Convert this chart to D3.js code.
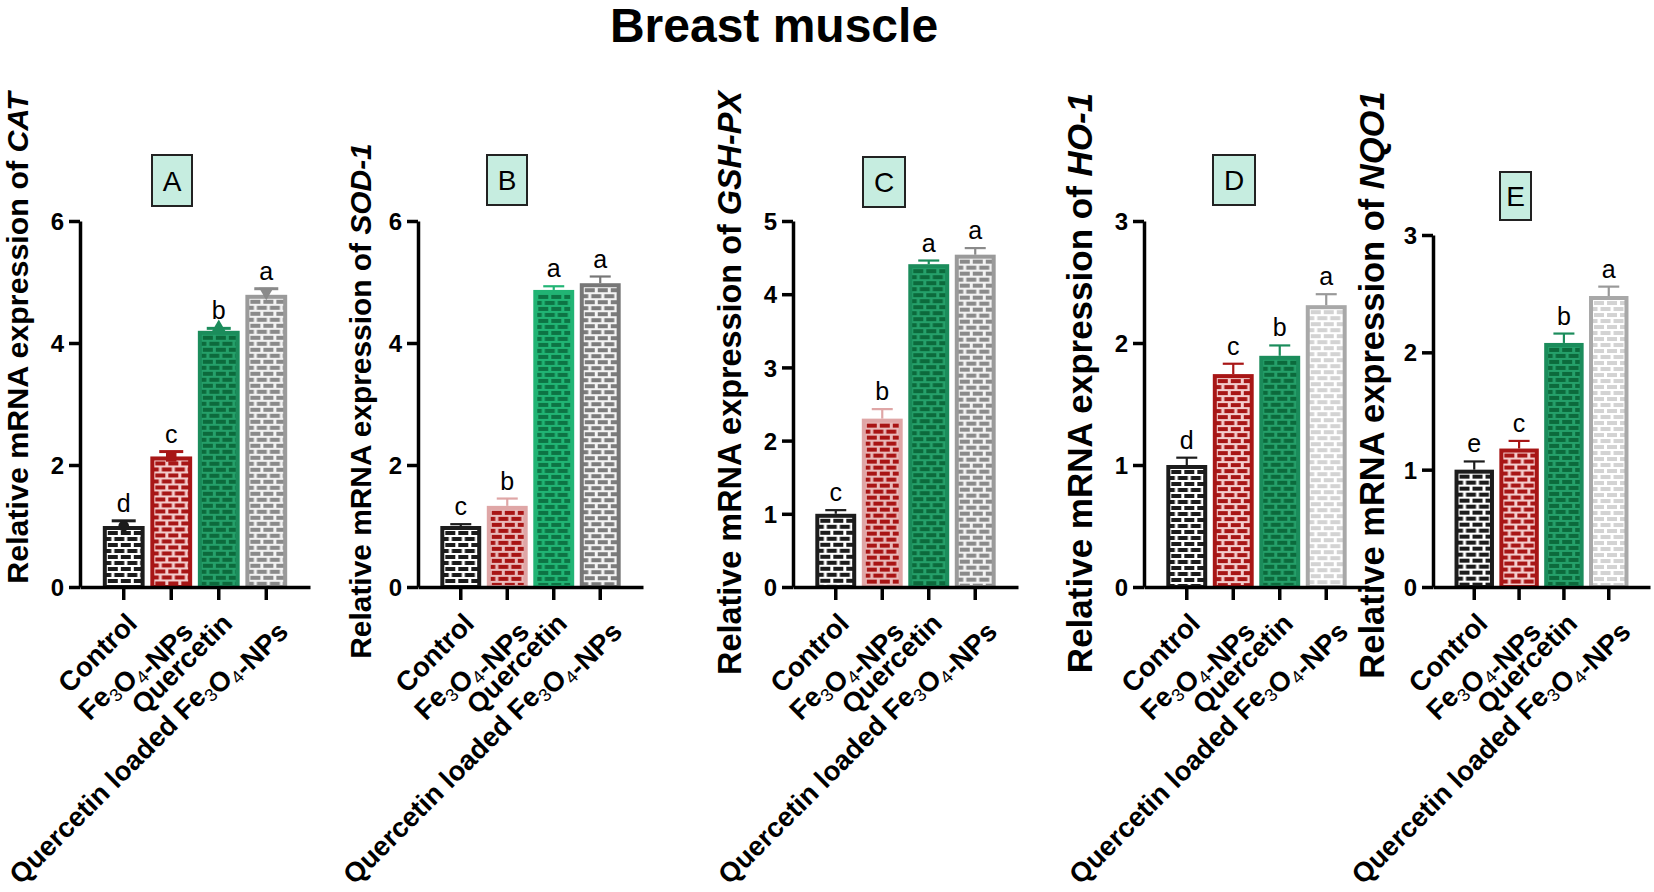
<!DOCTYPE html>
<html>
<head>
<meta charset="utf-8">
<script src="https://cdn.jsdelivr.net/npm/d3@7/dist/d3.min.js"></script>
<style>
  html, body { margin: 0; padding: 0; background: #fff; }
  svg { display: block; font-family: "Liberation Sans", Arial, sans-serif; }
</style>
</head>
<body>
<svg id="chart" width="1654" height="892"></svg>
<script>
// groups on the x axis (same for every panel)
var categories = ["Control", "Fe3O4-NPs", "Quercetin", "Quercetin loaded Fe3O4-NPs"]

// A - CAT
var catMeans = [1.00, 2.14, 4.20, 4.79]
var catErr = [0.085, 0.08, 0.04, 0.10]
var catLetters = ["d", "c", "b", "a"]
// B - SOD-1
var sodMeans = [1.00, 1.33, 4.87, 4.98]
var sodErr = [0.03, 0.12, 0.06, 0.11]
var sodLetters = ["c", "b", "a", "a"]
// C - GSH-PX
var gshMeans = [1.00, 2.30, 4.41, 4.54]
var gshErr = [0.05, 0.13, 0.05, 0.09]
var gshLetters = ["c", "b", "a", "a"]
// D - HO-1
var hoMeans = [1.00, 1.745, 1.895, 2.31]
var hoErr = [0.06, 0.085, 0.085, 0.09]
var hoLetters = ["d", "c", "b", "a"]
// E - NQO1
var nqoMeans = [1.00, 1.18, 2.08, 2.48]
var nqoErr = [0.07, 0.065, 0.08, 0.08]
var nqoLetters = ["e", "c", "b", "a"]

var ticksSix = [0, 2, 4, 6]
var ticksFive = [0, 1, 2, 3, 4, 5]
var ticksThree = [0, 1, 2, 3]

// bar colours: border, brick, mortar, error bar
var blackBar = {border: "#1c1c1c", brick: "#1c1c1c", mortar: "#ffffff", err: "#1c1c1c"}
var redBar = {border: "#a81616", brick: "#a81616", mortar: "#f3cccc", err: "#a81616"}
var pinkRedBar = {border: "#dfa6a6", brick: "#a81414", mortar: "#e9b9b9", err: "#dfa6a6"}
var greenBar = {border: "#1b8c5b", brick: "#0c6a3c", mortar: "#25a06a", err: "#1b8c5b"}
var brightGreenBar = {border: "#21b474", brick: "#0d7444", mortar: "#21b474", err: "#21b474"}
var grayBar = {border: "#9a9a9a", brick: "#8a8a8a", mortar: "#f2f2f2", err: "#8a8a8a"}
var darkGrayBar = {border: "#777777", brick: "#7c7c7c", mortar: "#f4f4f4", err: "#777777"}
var lightGrayBar = {border: "#a8a8a8", brick: "#d3d3d3", mortar: "#ffffff", err: "#999999"}

var panels = [
  {tag: "A", gene: "CAT", means: catMeans, errs: catErr, letters: catLetters, ymax: 6, ticks: ticksSix,
   ax0: 80, ax1: 310, yTop: 221, yBot: 587, titleX: 28, titleY: 338, titleFs: 30.4,
   box: [152, 155, 40, 51], colors: [blackBar, redBar, greenBar, grayBar], markers: true},
  {tag: "B", gene: "SOD-1", means: sodMeans, errs: sodErr, letters: sodLetters, ymax: 6, ticks: ticksSix,
   ax0: 418, ax1: 643, yTop: 221, yBot: 587, titleX: 371, titleY: 401, titleFs: 29.9,
   box: [487, 155, 40, 50], colors: [blackBar, pinkRedBar, brightGreenBar, darkGrayBar], markers: false},
  {tag: "C", gene: "GSH-PX", means: gshMeans, errs: gshErr, letters: gshLetters, ymax: 5, ticks: ticksFive,
   ax0: 793, ax1: 1018, yTop: 221, yBot: 587, titleX: 741, titleY: 383, titleFs: 32.4,
   box: [863, 157, 42, 50], colors: [blackBar, pinkRedBar, greenBar, grayBar], markers: false},
  {tag: "D", gene: "HO-1", means: hoMeans, errs: hoErr, letters: hoLetters, ymax: 3, ticks: ticksThree,
   ax0: 1144, ax1: 1369, yTop: 221, yBot: 587, titleX: 1092, titleY: 383, titleFs: 35,
   box: [1213, 155, 42, 50], colors: [blackBar, redBar, greenBar, lightGrayBar], markers: false},
  {tag: "E", gene: "NQO1", means: nqoMeans, errs: nqoErr, letters: nqoLetters, ymax: 3, ticks: ticksThree,
   ax0: 1433, ax1: 1650, yTop: 235, yBot: 587, titleX: 1384, titleY: 385, titleFs: 34.5,
   box: [1500, 172, 31, 48], colors: [blackBar, redBar, greenBar, lightGrayBar], markers: false}
]

var svg = d3.select("#chart")
var defs = svg.append("defs")

svg.append("text")
  .attr("x", 774).attr("y", 42)
  .attr("text-anchor", "middle")
  .style("font-size", "48px").style("font-weight", "bold")
  .text("Breast muscle")

// brick pattern: mortar background with staggered bricks
function brickPattern(id, col, x0, y0) {
  var p = defs.append("pattern")
    .attr("id", id)
    .attr("patternUnits", "userSpaceOnUse")
    .attr("width", 13).attr("height", 12)
    .attr("x", x0).attr("y", y0)
  p.append("rect").attr("width", 13).attr("height", 12).attr("fill", col.mortar)
  var bricks = [[1, 1, 10], [-5.5, 7, 10], [7.5, 7, 10]]
  bricks.forEach(function (b) {
    p.append("rect").attr("x", b[0]).attr("y", b[1]).attr("width", b[2]).attr("height", 4).attr("fill", col.brick)
  })
}

// label with digits as subscripts (Fe3O4)
function subText(sel, str) {
  var parts = str.split(/(\d)/)
  parts.forEach(function (s) {
    if (s === "") return
    if (/^\d$/.test(s)) {
      sel.append("tspan").attr("dy", 6).style("font-size", "0.66em").style("font-weight", "normal").text(s)
      sel.append("tspan").attr("dy", -6).text("")
    } else {
      sel.append("tspan").text(s)
    }
  })
}

var markerTypes = [d3.symbolCircle, d3.symbolSquare, d3.symbolTriangle, d3.symbolTriangle]

panels.forEach(function (pn, pi) {
  var g = svg.append("g")

  var x = d3.scaleBand().domain(categories).range([pn.ax0, pn.ax1]).paddingInner(0.12).paddingOuter(0.48)
  var y = d3.scaleLinear().domain([0, pn.ymax]).range([pn.yBot, pn.yTop])
  var bw = x.bandwidth()

  var rows = categories.map(function (c, i) {
    return {cat: c, v: pn.means[i], e: pn.errs[i], letter: pn.letters[i], col: pn.colors[i], i: i}
  })

  // bars
  rows.forEach(function (d) {
    var id = "pat" + pi + "_" + d.i
    brickPattern(id, d.col, x(d.cat) + 4, y(d.v) + 4)
  })
  g.selectAll("rect.bar").data(rows).enter().append("rect")
    .attr("class", "bar")
    .attr("x", function (d) { return x(d.cat) + 2 })
    .attr("y", function (d) { return y(d.v) + 2 })
    .attr("width", bw - 4)
    .attr("height", function (d) { return pn.yBot - y(d.v) - 2 })
    .attr("fill", function (d) { return "url(#pat" + pi + "_" + d.i + ")" })
    .attr("stroke", function (d) { return d.col.border })
    .attr("stroke-width", 4)

  // error bars (upper only)
  var capW = pn.markers ? 24 : 21
  g.selectAll("line.err").data(rows).enter().append("line")
    .attr("x1", function (d) { return x(d.cat) + bw / 2 }).attr("x2", function (d) { return x(d.cat) + bw / 2 })
    .attr("y1", function (d) { return y(d.v) }).attr("y2", function (d) { return y(d.v + d.e) })
    .attr("stroke", function (d) { return d.col.err }).attr("stroke-width", pn.markers ? 3 : 2.2)
  g.selectAll("line.cap").data(rows).enter().append("line")
    .attr("x1", function (d) { return x(d.cat) + bw / 2 - capW / 2 }).attr("x2", function (d) { return x(d.cat) + bw / 2 + capW / 2 })
    .attr("y1", function (d) { return y(d.v + d.e) }).attr("y2", function (d) { return y(d.v + d.e) })
    .attr("stroke", function (d) { return d.col.err }).attr("stroke-width", pn.markers ? 3 : 2.2)

  if (pn.markers) {
    g.selectAll("path.mk").data(rows).enter().append("path")
      .attr("d", function (d) { return d3.symbol().type(markerTypes[d.i]).size(d.i === 1 ? 110 : 90)() })
      .attr("transform", function (d) {
        return "translate(" + (x(d.cat) + bw / 2) + "," + (y(d.v) - (d.i >= 2 ? 3 : 0)) + ")" + (d.i === 3 ? " rotate(180)" : "")
      })
      .attr("fill", function (d) { return d.col.err })
  }

  // significance letters
  g.selectAll("text.sig").data(rows).enter().append("text")
    .attr("x", function (d) { return x(d.cat) + bw / 2 })
    .attr("y", function (d) { return y(d.v + d.e) - 9 })
    .attr("text-anchor", "middle")
    .style("font-size", "25px")
    .text(function (d) { return d.letter })

  // y axis
  var yAxis = g.append("g")
    .attr("transform", "translate(" + pn.ax0 + ",0)")
    .call(d3.axisLeft(y).tickValues(pn.ticks).tickFormat(d3.format("d")).tickSize(11).tickSizeOuter(0).tickPadding(5))
  yAxis.select(".domain").attr("stroke-width", 3.5).attr("stroke", "#000")
  yAxis.selectAll(".tick line").attr("stroke-width", 3.5)
  yAxis.selectAll(".tick text")
    .style("font-size", "24px").style("font-weight", "bold")
    .style("font-family", "'Liberation Sans', Arial, sans-serif")
    .attr("dy", "0.36em")

  // x axis
  var xAxis = g.append("g")
    .attr("transform", "translate(0," + pn.yBot + ")")
    .call(d3.axisBottom(x).tickSize(13).tickSizeOuter(0))
  xAxis.select(".domain").attr("stroke-width", 3.5).attr("stroke", "#000")
  xAxis.selectAll(".tick line").attr("stroke-width", 3.5)
  xAxis.selectAll(".tick text").remove()

  categories.forEach(function (c) {
    var t = g.append("text")
      .attr("text-anchor", "end")
      .attr("transform", "translate(" + (x(c) + bw / 2 + 15) + "," + (pn.yBot + 38) + ") rotate(-45)")
      .style("font-size", "27.5px").style("font-weight", "bold")
    subText(t, c)
  })

  // y axis title
  var yt = g.append("text")
    .attr("text-anchor", "middle")
    .attr("transform", "translate(" + pn.titleX + "," + pn.titleY + ") rotate(-90)")
    .style("font-size", pn.titleFs + "px").style("font-weight", "bold")
  yt.append("tspan").text("Relative mRNA expression of ")
  yt.append("tspan").style("font-style", "italic").text(pn.gene)

  // panel letter box
  g.append("rect")
    .attr("x", pn.box[0]).attr("y", pn.box[1]).attr("width", pn.box[2]).attr("height", pn.box[3])
    .attr("fill", "#c6ede0").attr("stroke", "#222").attr("stroke-width", 2)
  g.append("text")
    .attr("x", pn.box[0] + pn.box[2] / 2).attr("y", pn.box[1] + pn.box[3] / 2 + 10)
    .attr("text-anchor", "middle")
    .style("font-size", "28px")
    .text(pn.tag)
})
</script>
</body>
</html>
